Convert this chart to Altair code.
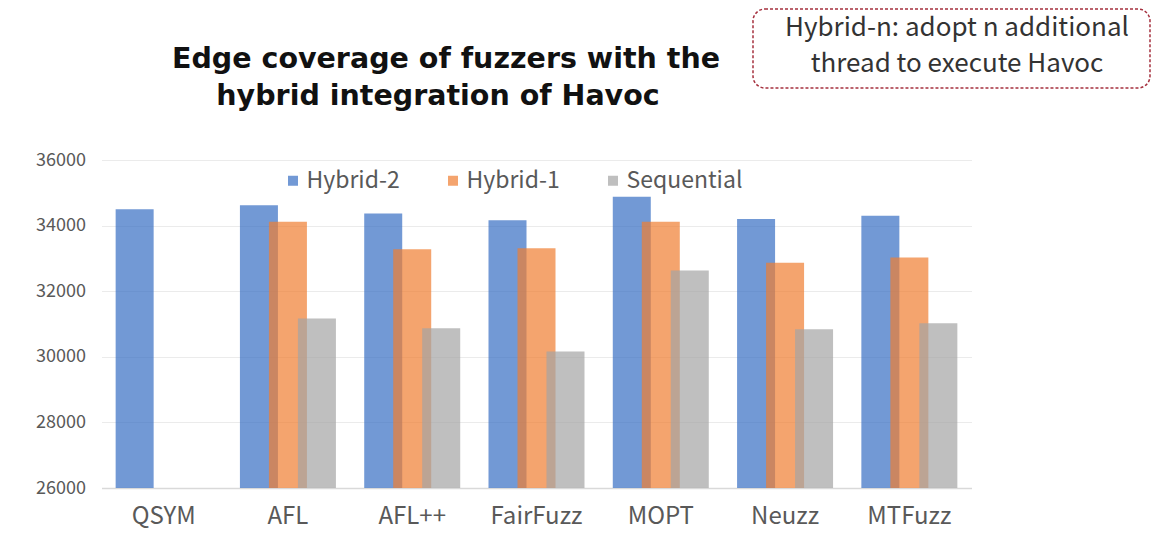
import altair as alt
import pandas as pd

# ---- data ----
fuzzers = ["QSYM", "AFL", "AFL++", "FairFuzz", "MOPT", "Neuzz", "MTFuzz"]
series = ["Hybrid-2", "Hybrid-1", "Sequential"]
hybrid2 = [34500, 34620, 34370, 34160, 34880, 34200, 34300]
hybrid1 = [None, 34120, 33280, 33310, 34120, 32870, 33030]
sequential = [None, 31170, 30870, 30160, 32630, 30840, 31020]
y_ticks = [26000, 28000, 30000, 32000, 34000, 36000]
colors = ["#366DC3", "#EF7D30", "#A4A4A4"]

title_lines = ["Edge coverage of fuzzers with the", "hybrid integration of Havoc"]
note_lines = ["Hybrid-n: adopt n additional", "thread to execute Havoc"]

rows = []
for i, f in enumerate(fuzzers):
    for s, vals in zip(series, [hybrid2, hybrid1, sequential]):
        if vals[i] is not None:
            rows.append({"fuzzer": f, "series": s, "value": vals[i]})
df = pd.DataFrame(rows)

LABEL_FONT = "Noto Sans CJK SC"
GREY_TXT = "#595959"

bars = alt.Chart(df).mark_bar(width=38, opacity=0.7).encode(
    x=alt.X(
        "fuzzer:N", sort=fuzzers, title=None,
        scale=alt.Scale(paddingInner=0, paddingOuter=0),
        axis=alt.Axis(labelAngle=0, labelFontSize=24, labelColor=GREY_TXT,
                      labelFont=LABEL_FONT, labelPadding=16, ticks=False,
                      domainColor="#D9D9D9", domainWidth=1.5, grid=False),
    ),
    xOffset=alt.XOffset(
        "series:N", sort=series,
        scale=alt.Scale(domain=series, paddingInner=0, paddingOuter=0.643),
    ),
    y=alt.Y(
        "value:Q", title=None,
        scale=alt.Scale(domain=[26000, 36000], nice=False, zero=False, clamp=True),
        axis=alt.Axis(values=y_ticks, format="d", labelFontSize=18,
                      labelColor=GREY_TXT, labelFont=LABEL_FONT,
                      labelPadding=16, ticks=False, domain=False,
                      gridColor="#EBEBEB", gridWidth=1),
    ),
    color=alt.Color(
        "series:N", sort=series,
        scale=alt.Scale(domain=series, range=colors),
        legend=alt.Legend(
            title=None, orient="none", legendX=180, legendY=9,
            direction="horizontal", columns=3, gridAlign="all",
            columnPadding=19, symbolType="square", symbolSize=100,
            symbolStrokeWidth=0, labelFontSize=23, labelFont=LABEL_FONT,
            labelColor=GREY_TXT, labelOffset=2,
        ),
    ),
)

title_df = pd.DataFrame({"t": title_lines, "x": [344.5, 336.5], "y": [-101, -64]})
title = alt.Chart(title_df).mark_text(
    font="DejaVu Sans", fontSize=28.5, fontWeight="bold", color="#111111",
    align="center", baseline="middle",
).encode(x=alt.X("x:Q", scale=None), y=alt.Y("y:Q", scale=None), text="t:N")

box = alt.Chart(pd.DataFrame({"k": [0]})).mark_rect(
    fill="white", stroke="#A5303E", strokeWidth=1.5, strokeDash=[3, 2],
    cornerRadius=12,
).encode(x=alt.value(651.5), x2=alt.value(1048.5), y=alt.value(-151), y2=alt.value(-72))

note_df = pd.DataFrame({"t": note_lines, "x": [855.5, 855.5], "y": [-132, -96]})
note = alt.Chart(note_df).mark_text(
    font=LABEL_FONT, fontSize=26, color="#333333",
    align="center", baseline="middle",
).encode(x=alt.X("x:Q", scale=None), y=alt.Y("y:Q", scale=None), text="t:N")

chart = alt.layer(bars, box, note, title).properties(
    width=870, height=328,
    padding={"left": 93.5, "top": 152, "right": 186.5, "bottom": 50},
    autosize=alt.AutoSizeParams(type="none"),
    background="white",
).configure_view(stroke=None)

chart.save("out.html", embed_options={"renderer": "svg", "actions": False})
